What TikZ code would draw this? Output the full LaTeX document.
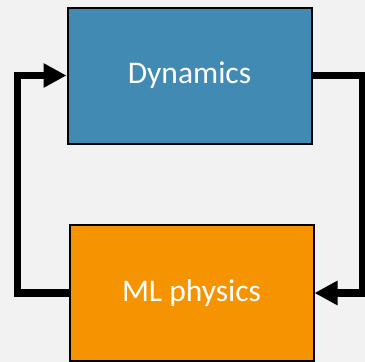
\documentclass[tikz,border=0pt]{standalone}
\usepackage{fontspec}
\setmainfont{Carlito}
\usetikzlibrary{arrows.meta}
\definecolor{bg}{HTML}{F2F2F2}
\definecolor{dynblue}{HTML}{418AB3}
\definecolor{mlorange}{HTML}{F59400}
\begin{document}
\begin{tikzpicture}[x=1pt,y=-1pt,
  blockbox/.style={draw=black, line width=2pt, minimum width=244pt, minimum height=136pt, inner sep=0pt, text=white, font=\fontsize{31.5}{36}\selectfont},
  loopline/.style={line width=7.5pt, black, -{Triangle[width=23pt,length=23pt]}}]
\fill[bg] (0,0) rectangle (365,362);
\useasboundingbox (0,0) rectangle (365,362);
\node[blockbox, fill=dynblue] (dyn) at (189.5,75.5) {Dynamics};
\node[blockbox, fill=mlorange] (ml) at (191.5,293) {ML physics};
\coordinate (tr) at (363,75.5);
\coordinate (br) at (363,293);
\coordinate (bl) at (17.5,293);
\coordinate (tl) at (17.5,75.5);
\draw[loopline] (dyn.east) -- (tr) -- (br) -- (ml.east);
\draw[loopline] (ml.west) -- (bl) -- (tl) -- (dyn.west);
\end{tikzpicture}
\end{document}
